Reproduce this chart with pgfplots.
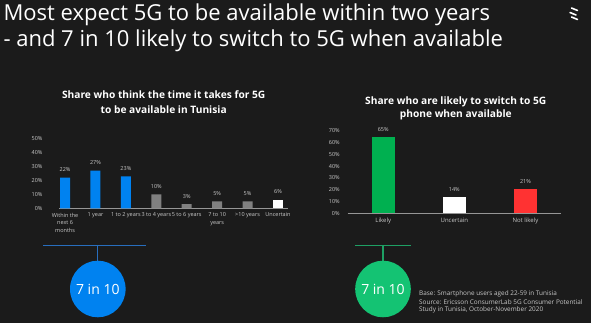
\documentclass[border=0pt]{standalone}
\usepackage{pgfplots}
\pgfplotsset{compat=1.18}
\usepackage{fontspec}
\setmainfont{Open Sans}
\definecolor{bg}{RGB}{27,27,27}
\definecolor{eblue}{RGB}{0,130,240}
\definecolor{lineblue}{RGB}{40,110,190}
\definecolor{egreen}{RGB}{20,195,115}
\definecolor{linegreen}{RGB}{30,160,100}
\definecolor{bgreen}{RGB}{0,176,80}
\definecolor{ered}{RGB}{255,50,50}
\definecolor{egrey}{RGB}{128,128,128}
\definecolor{lbl}{RGB}{200,200,200}
\definecolor{axisgrey}{RGB}{150,150,150}
\pgfplotsset{
  mybar/.style={
    scale only axis, ymin=0,
    ybar, bar shift=0pt,
    axis x line*=bottom, axis y line*=left,
    x axis line style={draw=axisgrey, line width=1pt},
    y axis line style={draw=none},
    major tick length=0pt,
    /pgf/number format/assume math mode=true,
    yticklabel={\pgfmathprintnumber{\tick}\%},
    yticklabel style={text=lbl},
    xticklabel style={text=lbl, align=center},
    nodes near coords={\pgfmathprintnumber{\pgfplotspointmeta}\%},
    every axis plot/.append style={draw=none},
    clip=false,
  }
}
\begin{document}
\begin{tikzpicture}[x=1pt,y=1pt]
\path[use as bounding box] (0,0) rectangle (591,323);
\fill[bg] (0,0) rectangle (591,323);
% main title
\node[anchor=base west, text=white, font=\fontsize{22}{26}\selectfont, inner sep=0] at (3.3,302.3) {Most expect 5G to be available within two years};
\node[anchor=base west, text=white, font=\fontsize{22}{26}\selectfont, inner sep=0] at (3.3,276.3) {- and 7 in 10 likely to switch to 5G when available};
% logo
\foreach \dy/\dx in {0/1.5,4.5/0,9/1.5}{
  \draw[white, line width=1.6pt, line cap=round] (570+\dx,315-\dy) -- (576+\dx,312.5-\dy);
}
% chart titles
\node[anchor=base, text=white, font=\bfseries\fontsize{10.2}{12}\selectfont, inner sep=0] at (163.7,224) {Share who think the time it takes for 5G};
\node[anchor=base, text=white, font=\bfseries\fontsize{10.2}{12}\selectfont, inner sep=0] at (163.7,209.7) {to be available in Tunisia};
\node[anchor=base, text=white, font=\bfseries\fontsize{10.2}{12}\selectfont, inner sep=0] at (455.8,218) {Share who are likely to switch to 5G};
\node[anchor=base, text=white, font=\bfseries\fontsize{10.2}{12}\selectfont, inner sep=0] at (455.8,205.3) {phone when available};

% left chart
\begin{axis}[mybar, at={(59pt,114.7pt)}, anchor=south west,
  width=229pt, height=69.6pt, xmin=-0.2, xmax=7.33, ymax=50,
  bar width=10pt,
  ytick={0,10,...,50},
  yticklabel style={font=\fontsize{5.5}{7}\selectfont, xshift=-13pt},
  xtick={0,...,7},
  xticklabels={{Within the\\next 6\\months},{1 year},{1 to 2 years},{3 to 4 years},{5 to 6 years},{7 to 10\\years},{>10 years},{Uncertain}},
  xticklabel style={font=\fontsize{5.5}{7.5}\selectfont, yshift=-1pt},
  every node near coord/.append style={font=\fontsize{5.5}{7}\selectfont, text=lbl, yshift=2.5pt},
]
\addplot[fill=eblue] coordinates {(0,22) (1,27) (2,23)};
\addplot[fill=egrey] coordinates {(3,10) (4,3) (5,5) (6,5)};
\addplot[fill=white] coordinates {(7,6)};
\end{axis}

% right chart
\begin{axis}[mybar, at={(347.7pt,109.7pt)}, anchor=south west,
  width=213.3pt, height=82.6pt, xmin=-0.5, xmax=2.5, ymax=70,
  bar width=22.7pt,
  ytick={0,10,...,70},
  yticklabel style={font=\fontsize{5.5}{7}\selectfont, xshift=-4.5pt},
  xtick={0,1,2},
  xticklabels={Likely,Uncertain,Not likely},
  xticklabel style={font=\fontsize{6}{8}\selectfont, yshift=-1.5pt},
  every node near coord/.append style={font=\fontsize{5.5}{7}\selectfont, text=lbl, yshift=1.5pt},
]
\addplot[fill=bgreen] coordinates {(0,65)};
\addplot[fill=white] coordinates {(1,14)};
\addplot[fill=ered] coordinates {(2,21)};
\end{axis}

% brackets and circles
\draw[lineblue, line width=1.2pt] (43.3,77.3) -- (145.7,77.3);
\draw[lineblue, line width=1.2pt] (97.7,77.3) -- (97.7,62.3);
\fill[eblue] (97.8,34) ellipse [x radius=27.8, y radius=28.3];
\node[text=white, font=\fontsize{14}{18}\selectfont] at (97.8,34) {7 in 10};

\draw[linegreen, line width=1.2pt] (355,77.3) -- (411,77.3);
\draw[linegreen, line width=1.2pt] (383,77.3) -- (383,62.3);
\fill[egreen] (383,34) ellipse [x radius=27.8, y radius=28.3];
\node[text=white, font=\fontsize{14}{18}\selectfont] at (383,34) {7 in 10};

% footnote
\node[anchor=west, inner sep=0, text=lbl, font=\fontsize{6.4}{8}\selectfont] at (419,29) {Base: Smartphone users aged 22-59 in Tunisia};
\node[anchor=west, inner sep=0, text=lbl, font=\fontsize{6.4}{8}\selectfont] at (419,21) {Source: Ericsson ConsumerLab 5G Consumer Potential};
\node[anchor=west, inner sep=0, text=lbl, font=\fontsize{6.4}{8}\selectfont] at (419,12.7) {Study in Tunisia, October-November 2020};
\end{tikzpicture}
\end{document}
